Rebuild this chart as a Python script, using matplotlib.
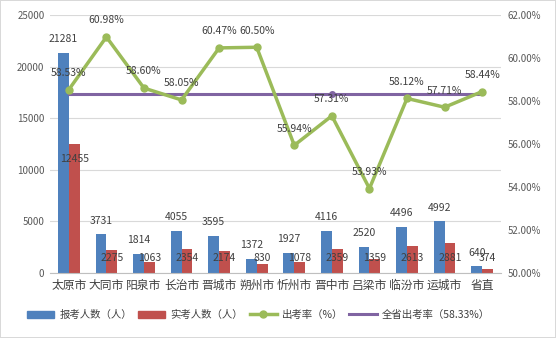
import matplotlib
matplotlib.use("Agg")
import matplotlib.pyplot as plt
import numpy as np
from matplotlib.ticker import FuncFormatter
from matplotlib.patches import Patch
from matplotlib.lines import Line2D

plt.rcParams['font.family'] = ['Noto Sans CJK SC', 'DejaVu Sans']

# 各市报考、实考人数及出考率
cities = ["太原市", "大同市", "阳泉市", "长治市", "晋城市", "朔州市",
          "忻州市", "晋中市", "吕梁市", "临汾市", "运城市", "省直"]
applied = [21281, 3731, 1814, 4055, 3595, 1372, 1927, 4116, 2520, 4496, 4992, 640]
attended = [12455, 2275, 1063, 2354, 2174, 830, 1078, 2359, 1359, 2613, 2881, 374]
rate = [58.53, 60.98, 58.60, 58.05, 60.47, 60.50, 55.94, 57.31, 53.93, 58.12, 57.71, 58.44]
province_rate = 58.33

blue = "#4F81BD"
red = "#C0504D"
green = "#9BBB59"
purple = "#8064A2"
txt = "#404040"
tick_c = "#595959"

fig = plt.figure(figsize=(5.56, 3.38), dpi=100)
fig.patch.set_edgecolor("#D9D9D9")
fig.patch.set_linewidth(1.2)
ax = fig.add_axes([0.09, 0.1923, 0.811, 0.7633])
ax2 = ax.twinx()

x = np.arange(len(cities))
w = 0.29
ax.bar(x - w / 2, applied, w, color=blue, zorder=2)
ax.bar(x + w / 2, attended, w, color=red, zorder=2)

ax.set_xlim(-0.5, len(cities) - 0.5)
ax.set_ylim(0, 25000)

for xi, v in zip(x, applied):
    ax.annotate(str(v), (xi - w / 2, v), xytext=(0, 10), textcoords="offset points",
                ha="center", va="center", fontsize=7.5, color=txt, zorder=5)

# 实考人数标签放在柱内顶端，过矮的柱子标签不低于轴线
px_to_data = 25000 / (ax.get_position().height * fig.get_figheight() * fig.dpi)
for xi, v in zip(x, attended):
    ypos = max(v - 14.5 * px_to_data, 15 * px_to_data)
    ax.text(xi + w / 2, ypos, str(v), ha="center", va="center",
            fontsize=7.5, color=txt, zorder=5)

ax.set_yticks(range(0, 25001, 5000))
ax.yaxis.grid(True, color="#D9D9D9", linewidth=0.8)
ax.set_axisbelow(True)
ax.set_xticks(x)
ax.set_xticklabels(cities, fontsize=8.5, color=txt)
ax.tick_params(axis="x", length=0, pad=4)
ax.tick_params(axis="y", length=0, labelsize=7, labelcolor=tick_c, pad=4)
for s in ["top", "left", "right"]:
    ax.spines[s].set_visible(False)
ax.spines["bottom"].set_color("#BFBFBF")

# 出考率折线与全省出考率
ax2.plot(x, [province_rate] * len(x), color=purple, linewidth=2.2, zorder=3)
ax2.plot([x[7]], [province_rate], "o", color=purple, markersize=4, zorder=3)
ax2.plot(x, rate, color=green, linewidth=2.5, marker="o", markersize=5, zorder=4)
for xi, v in zip(x, rate):
    ax2.annotate(f"{v:.2f}%", (xi, v), xytext=(0, 12), textcoords="offset points",
                 ha="center", va="center", fontsize=7.5, color=txt, zorder=5)

ax2.set_ylim(50, 62)
ax2.set_yticks(np.arange(50, 62.01, 2))
ax2.yaxis.set_major_formatter(FuncFormatter(lambda v, p: f"{v:.2f}%"))
ax2.tick_params(axis="y", length=0, labelsize=7, labelcolor=tick_c, pad=5)
for s in ax2.spines.values():
    s.set_visible(False)

handles = [
    Patch(color=blue),
    Patch(color=red),
    Line2D([], [], color=green, linewidth=2.5, marker="o", markersize=5),
    Line2D([], [], color=purple, linewidth=2.2),
]
labels = ["报考人数（人）", "实考人数（人）", "出考率（%）", "全省出考率（58.33%）"]
fig.legend(handles, labels, loc="center", bbox_to_anchor=(0.465, 0.068), ncol=4,
           frameon=False, fontsize=7.5, handlelength=2.6, handleheight=0.7,
           columnspacing=0.6, handletextpad=0.5, labelcolor=txt)

fig.savefig("out.png", dpi=100, edgecolor=fig.get_edgecolor())
